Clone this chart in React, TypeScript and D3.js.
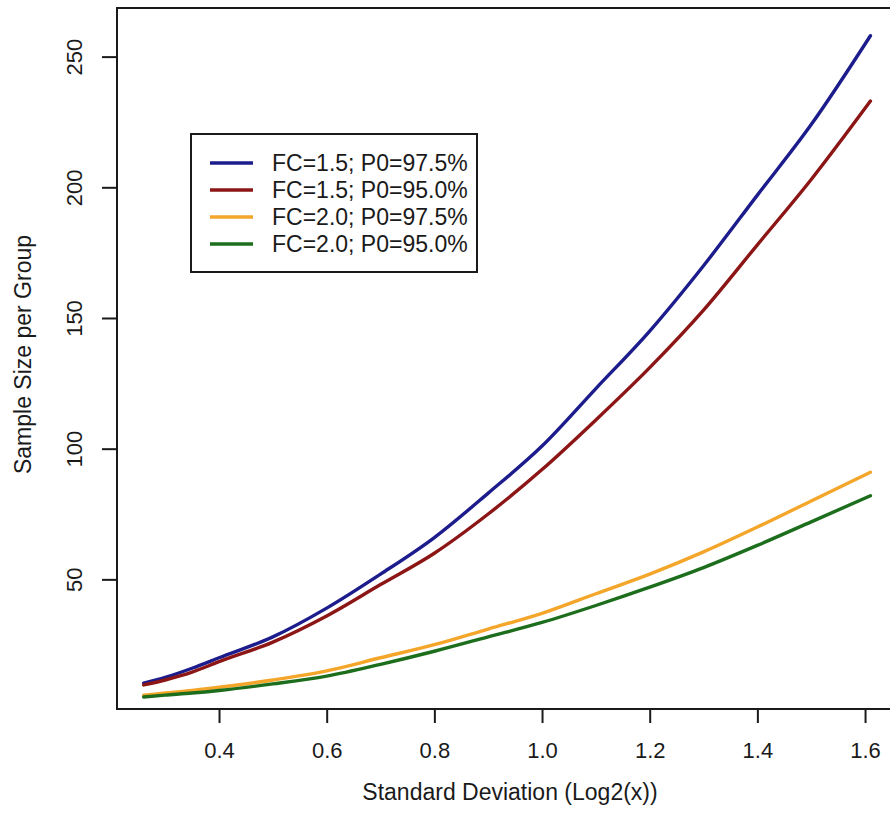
import { useEffect, useRef } from "react";
import * as d3 from "d3";

// standard deviation (log2) grid the curves were read at
const sdValues = [0.26, 0.3, 0.35, 0.4, 0.5, 0.6, 0.7, 0.8, 0.9, 1.0, 1.1, 1.2, 1.3, 1.4, 1.5, 1.61];

// sample size per group
const fc15p975 = [10.3, 12.5, 16, 20, 28, 39, 52, 66, 83, 101, 123, 145, 170, 197, 224, 258];
const fc15p950 = [9.6, 11.5, 14.5, 18.5, 26, 36, 48, 60, 75, 92, 111, 131, 153, 178, 203, 233];
const fc20p975 = [5.7, 6.5, 7.5, 8.7, 11.5, 15, 20, 25, 31, 37, 44.5, 52, 60.5, 70, 80, 91];
const fc20p950 = [5, 5.7, 6.5, 7.5, 10, 13, 17.5, 22.5, 28, 33.5, 40, 47, 54.5, 63, 72, 82];

const seriesLabels = ["FC=1.5; P0=97.5%", "FC=1.5; P0=95.0%", "FC=2.0; P0=97.5%", "FC=2.0; P0=95.0%"];
const seriesColors = ["#1c1c8c", "#8c1616", "#f4a62a", "#1c6e1c"];

const xTicks = [0.4, 0.6, 0.8, 1.0, 1.2, 1.4, 1.6];
const yTicks = [50, 100, 150, 200, 250];

const W = 890;
const H = 825;
const FONT = "'Liberation Sans', Arial, sans-serif";

function Chart() {
  const ref = useRef<SVGSVGElement>(null);

  useEffect(() => {
    const svg = d3.select(ref.current);
    svg.selectAll("*").remove();

    const left = 117, top = 8, bottom = 709, right = 899.5;

    const x = d3.scaleLinear().domain([0.2105, 1.664]).range([left, right]);
    const y = d3.scaleLinear().domain([0.4, 268.6]).range([bottom, top]);

    const series = [fc15p975, fc15p950, fc20p975, fc20p950];

    const line = d3
      .line<number>()
      .x((_, i) => x(sdValues[i]))
      .y((d) => y(d))
      .curve(d3.curveMonotoneX);

    svg
      .append("g")
      .selectAll("path")
      .data(series)
      .join("path")
      .attr("d", (d) => line(d))
      .attr("fill", "none")
      .attr("stroke", (_, i) => seriesColors[i])
      .attr("stroke-width", 3.4)
      .attr("stroke-linecap", "round");

    // plot box
    svg
      .append("rect")
      .attr("x", left)
      .attr("y", top)
      .attr("width", right - left)
      .attr("height", bottom - top)
      .attr("fill", "none")
      .attr("stroke", "#1a1a1a")
      .attr("stroke-width", 2);

    const xAxis = svg
      .append("g")
      .attr("transform", `translate(0,${bottom})`)
      .call(d3.axisBottom(x).tickValues(xTicks).tickSize(14).tickPadding(19).tickFormat(d3.format(".1f")));
    xAxis.select(".domain").remove();
    xAxis.selectAll("line").attr("stroke", "#1a1a1a").attr("stroke-width", 2);
    xAxis.selectAll("text").attr("font-size", 22).attr("font-family", FONT).attr("fill", "#1a1a1a");

    const yAxis = svg
      .append("g")
      .attr("transform", `translate(${left},0)`)
      .call(d3.axisLeft(y).tickValues(yTicks).tickSize(15));
    yAxis.select(".domain").remove();
    yAxis.selectAll("line").attr("stroke", "#1a1a1a").attr("stroke-width", 2);
    yAxis
      .selectAll("text")
      .attr("x", 0)
      .attr("dy", 0)
      .attr("text-anchor", "middle")
      .attr("transform", `translate(${82 - left},0) rotate(-90)`)
      .attr("font-size", 22)
      .attr("font-family", FONT)
      .attr("fill", "#1a1a1a");

    svg
      .append("text")
      .attr("x", 510)
      .attr("y", 800)
      .attr("text-anchor", "middle")
      .attr("font-size", 23)
      .attr("font-family", FONT)
      .attr("fill", "#1a1a1a")
      .text("Standard Deviation (Log2(x))");

    svg
      .append("text")
      .attr("transform", `translate(31,${(top + bottom) / 2 - 4}) rotate(-90)`)
      .attr("text-anchor", "middle")
      .attr("font-size", 23)
      .attr("font-family", FONT)
      .attr("fill", "#1a1a1a")
      .text("Sample Size per Group");

    // legend
    const lg = svg.append("g").attr("transform", "translate(191,134)");
    lg.append("rect")
      .attr("width", 286)
      .attr("height", 138)
      .attr("fill", "white")
      .attr("stroke", "#1a1a1a")
      .attr("stroke-width", 2);
    const rows = lg
      .selectAll("g")
      .data(seriesLabels)
      .join("g")
      .attr("transform", (_, i) => `translate(0,${29 + i * 27})`);
    rows
      .append("line")
      .attr("x1", 19)
      .attr("x2", 62)
      .attr("stroke", (_, i) => seriesColors[i])
      .attr("stroke-width", 3.4);
    rows
      .append("text")
      .attr("x", 81)
      .attr("dy", "0.36em")
      .attr("font-size", 23)
      .attr("font-family", FONT)
      .attr("fill", "#1a1a1a")
      .text((d) => d);
  }, []);

  return <svg ref={ref} width={W} height={H} style={{ position: "absolute", left: 0, top: 0, background: "white" }} />;
}

export default function App() {
  return <Chart />;
}
